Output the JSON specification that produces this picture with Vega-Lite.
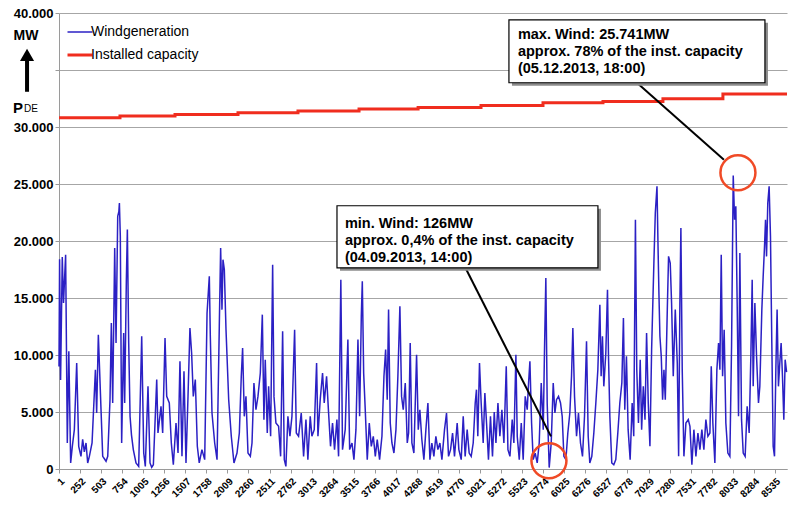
{
  "$schema": "https://vega.github.io/schema/vega-lite/v6.json",
  "width": 728,
  "height": 456,
  "autosize": {"type": "none"},
  "padding": {"left": 59, "top": 13, "right": 3, "bottom": 44},
  "background": "white",
  "config": {
    "font": "Liberation Sans",
    "view": {"stroke": null}
  },
  "datasets": {
    "wind": [
      {"h":1,"mw":9000},{"h":8,"mw":18400},{"h":20,"mw":7800},{"h":40,"mw":18600},{"h":55,"mw":14560},{"h":80,"mw":18800},{"h":100,"mw":2280},{"h":118,"mw":10320},{"h":140,"mw":530},{"h":160,"mw":2000},{"h":184,"mw":3450},{"h":212,"mw":9300},{"h":236,"mw":1990},{"h":263,"mw":1110},{"h":283,"mw":2600},{"h":303,"mw":1500},{"h":323,"mw":2280},{"h":343,"mw":530},{"h":363,"mw":1110},{"h":395,"mw":2280},{"h":435,"mw":8710},{"h":450,"mw":4910},{"h":470,"mw":11780},{"h":502,"mw":5200},{"h":522,"mw":1110},{"h":542,"mw":900},{"h":562,"mw":670},{"h":582,"mw":1110},{"h":609,"mw":6080},{"h":625,"mw":12800},{"h":641,"mw":5790},{"h":665,"mw":19390},{"h":681,"mw":11050},{"h":701,"mw":22160},{"h":715,"mw":22600},{"h":721,"mw":23330},{"h":732,"mw":20410},{"h":748,"mw":2280},{"h":772,"mw":11930},{"h":784,"mw":5790},{"h":804,"mw":16610},{"h":816,"mw":21000},{"h":832,"mw":11050},{"h":848,"mw":4620},{"h":865,"mw":3000},{"h":887,"mw":1700},{"h":919,"mw":530},{"h":951,"mw":230},{"h":987,"mw":11640},{"h":1011,"mw":1400},{"h":1030,"mw":230},{"h":1062,"mw":7250},{"h":1086,"mw":530},{"h":1106,"mw":150},{"h":1126,"mw":380},{"h":1166,"mw":7840},{"h":1181,"mw":3160},{"h":1217,"mw":5500},{"h":1237,"mw":3160},{"h":1265,"mw":11490},{"h":1285,"mw":6370},{"h":1316,"mw":5790},{"h":1340,"mw":2280},{"h":1364,"mw":380},{"h":1396,"mw":4040},{"h":1420,"mw":1400},{"h":1443,"mw":9440},{"h":1467,"mw":1110},{"h":1491,"mw":8570},{"h":1515,"mw":530},{"h":1539,"mw":6370},{"h":1562,"mw":12370},{"h":1582,"mw":10180},{"h":1602,"mw":6370},{"h":1626,"mw":7840},{"h":1650,"mw":1990},{"h":1673,"mw":530},{"h":1705,"mw":1700},
      {"h":1738,"mw":820},{"h":1766,"mw":13680},{"h":1793,"mw":16900},{"h":1805,"mw":11640},{"h":1825,"mw":4910},{"h":1857,"mw":2280},{"h":1885,"mw":820},{"h":1912,"mw":12510},{"h":1928,"mw":19390},{"h":1944,"mw":13980},{"h":1956,"mw":18360},{"h":1972,"mw":17490},{"h":1992,"mw":12220},{"h":2024,"mw":6080},{"h":2055,"mw":2870},{"h":2087,"mw":530},{"h":2123,"mw":1400},{"h":2151,"mw":3160},{"h":2174,"mw":8130},{"h":2190,"mw":10610},{"h":2210,"mw":4620},{"h":2230,"mw":6370},{"h":2254,"mw":1400},{"h":2282,"mw":1110},{"h":2302,"mw":2280},{"h":2325,"mw":7540},{"h":2349,"mw":5200},{"h":2373,"mw":6370},{"h":2401,"mw":8420},{"h":2425,"mw":13540},{"h":2444,"mw":4330},{"h":2460,"mw":9590},{"h":2484,"mw":3160},{"h":2500,"mw":7250},{"h":2524,"mw":2870},{"h":2548,"mw":17920},{"h":2564,"mw":6370},{"h":2587,"mw":4040},{"h":2619,"mw":3740},{"h":2643,"mw":1110},{"h":2667,"mw":12080},{"h":2687,"mw":820},{"h":2706,"mw":230},{"h":2730,"mw":4620},{"h":2754,"mw":2870},{"h":2778,"mw":4620},{"h":2810,"mw":12220},{"h":2830,"mw":3160},{"h":2857,"mw":2870},{"h":2889,"mw":4910},{"h":2917,"mw":1110},{"h":2945,"mw":4330},{"h":2968,"mw":820},{"h":2996,"mw":4620},{"h":3016,"mw":2870},{"h":3044,"mw":3450},{"h":3072,"mw":9300},{"h":3088,"mw":2870},{"h":3115,"mw":6080},{"h":3143,"mw":8420},{"h":3163,"mw":5790},{"h":3191,"mw":8130},{"h":3215,"mw":4910},{"h":3238,"mw":1990},{"h":3262,"mw":4040},{"h":3286,"mw":1700},{"h":3314,"mw":4330},{"h":3334,"mw":1110},{"h":3361,"mw":16610},{"h":3381,"mw":1700},{"h":3413,"mw":3450},{"h":3445,"mw":11350},
      {"h":3466,"mw":1700},{"h":3494,"mw":2280},{"h":3517,"mw":820},{"h":3541,"mw":3450},{"h":3565,"mw":11350},{"h":3585,"mw":4620},{"h":3605,"mw":13390},{"h":3617,"mw":16460},{"h":3633,"mw":8420},{"h":3652,"mw":5200},{"h":3676,"mw":820},{"h":3700,"mw":4040},{"h":3724,"mw":1990},{"h":3748,"mw":2870},{"h":3772,"mw":1110},{"h":3795,"mw":2570},{"h":3823,"mw":820},{"h":3851,"mw":2870},{"h":3875,"mw":8130},{"h":3895,"mw":10470},{"h":3914,"mw":6080},{"h":3930,"mw":13980},{"h":3950,"mw":4040},{"h":3970,"mw":2280},{"h":3994,"mw":1400},{"h":4018,"mw":3450},{"h":4041,"mw":8130},{"h":4065,"mw":14270},{"h":4085,"mw":6370},{"h":4105,"mw":5200},{"h":4129,"mw":7540},{"h":4153,"mw":2280},{"h":4169,"mw":3160},{"h":4188,"mw":11050},{"h":4208,"mw":2280},{"h":4232,"mw":1400},{"h":4264,"mw":10030},{"h":4284,"mw":3450},{"h":4303,"mw":5200},{"h":4327,"mw":2570},{"h":4351,"mw":820},{"h":4375,"mw":3450},{"h":4399,"mw":5790},{"h":4423,"mw":820},{"h":4446,"mw":2280},{"h":4470,"mw":1110},{"h":4494,"mw":2870},{"h":4518,"mw":1700},{"h":4542,"mw":2280},{"h":4566,"mw":820},{"h":4597,"mw":3450},{"h":4621,"mw":4910},{"h":4645,"mw":1110},{"h":4669,"mw":1700},{"h":4693,"mw":3160},{"h":4716,"mw":1110},{"h":4748,"mw":4040},{"h":4768,"mw":1700},{"h":4796,"mw":820},{"h":4820,"mw":4620},{"h":4843,"mw":1110},{"h":4867,"mw":3450},{"h":4891,"mw":1400},{"h":4915,"mw":1110},{"h":4939,"mw":2280},{"h":4963,"mw":5790},{"h":4978,"mw":6960},{"h":4994,"mw":2870},{"h":5014,"mw":9300},{"h":5034,"mw":5790},{"h":5058,"mw":2280},{"h":5078,"mw":6670},{"h":5098,"mw":4040},{"h":5121,"mw":820},{"h":5145,"mw":4620},{"h":5169,"mw":1110},{"h":5190,"mw":5000},
      {"h":5210,"mw":2280},{"h":5234,"mw":5790},{"h":5257,"mw":2870},{"h":5281,"mw":5200},{"h":5305,"mw":2280},{"h":5333,"mw":9010},{"h":5353,"mw":1700},{"h":5377,"mw":1110},{"h":5404,"mw":4330},{"h":5424,"mw":2280},{"h":5448,"mw":10030},{"h":5464,"mw":2870},{"h":5488,"mw":820},{"h":5512,"mw":4040},{"h":5535,"mw":820},{"h":5559,"mw":6370},{"h":5583,"mw":5200},{"h":5599,"mw":7540},{"h":5615,"mw":9440},{"h":5635,"mw":4040},{"h":5654,"mw":820},{"h":5678,"mw":1400},{"h":5702,"mw":530},{"h":5726,"mw":2280},{"h":5750,"mw":7540},{"h":5774,"mw":3450},{"h":5789,"mw":10470},{"h":5805,"mw":16750},{"h":5821,"mw":5790},{"h":5845,"mw":126},{"h":5869,"mw":2280},{"h":5893,"mw":7540},{"h":5913,"mw":4910},{"h":5932,"mw":6080},{"h":5956,"mw":6370},{"h":5980,"mw":5790},{"h":6000,"mw":4620},{"h":6020,"mw":1110},{"h":6044,"mw":820},{"h":6067,"mw":3160},{"h":6091,"mw":4910},{"h":6111,"mw":8130},{"h":6127,"mw":12370},{"h":6147,"mw":6370},{"h":6171,"mw":2870},{"h":6194,"mw":4910},{"h":6218,"mw":2280},{"h":6242,"mw":1110},{"h":6266,"mw":4620},{"h":6290,"mw":11200},{"h":6310,"mw":2870},{"h":6329,"mw":530},{"h":6353,"mw":1110},{"h":6377,"mw":3160},{"h":6401,"mw":5790},{"h":6425,"mw":8710},{"h":6449,"mw":14410},{"h":6464,"mw":8130},{"h":6480,"mw":11640},{"h":6496,"mw":7250},{"h":6520,"mw":10180},{"h":6540,"mw":15730},{"h":6552,"mw":9880},{"h":6568,"mw":4620},{"h":6591,"mw":530},{"h":6615,"mw":380},{"h":6639,"mw":820},{"h":6663,"mw":3160},{"h":6687,"mw":5790},{"h":6711,"mw":7540},{"h":6730,"mw":13250},{"h":6746,"mw":5200},{"h":6766,"mw":9880},{"h":6786,"mw":3450},{"h":6810,"mw":820},{"h":6834,"mw":5790},{"h":6853,"mw":2870},{"h":6873,"mw":21870},{"h":6889,"mw":8710},{"h":6909,"mw":4040},{"h":6930,"mw":9590},
      {"h":6947,"mw":3450},{"h":6967,"mw":7250},{"h":6987,"mw":4330},{"h":7006,"mw":11930},{"h":7026,"mw":5790},{"h":7046,"mw":1990},{"h":7066,"mw":10470},{"h":7094,"mw":18360},{"h":7110,"mw":22460},{"h":7130,"mw":24800},{"h":7141,"mw":20120},{"h":7153,"mw":15440},{"h":7165,"mw":11640},{"h":7181,"mw":9880},{"h":7197,"mw":6080},{"h":7213,"mw":8710},{"h":7229,"mw":6080},{"h":7253,"mw":13980},{"h":7268,"mw":18650},{"h":7288,"mw":18070},{"h":7304,"mw":14560},{"h":7324,"mw":8130},{"h":7348,"mw":13980},{"h":7372,"mw":9300},{"h":7388,"mw":1110},{"h":7403,"mw":14560},{"h":7415,"mw":21140},{"h":7431,"mw":8710},{"h":7451,"mw":1110},{"h":7475,"mw":4040},{"h":7503,"mw":4330},{"h":7523,"mw":3740},{"h":7546,"mw":380},{"h":7570,"mw":3450},{"h":7594,"mw":1110},{"h":7618,"mw":3160},{"h":7642,"mw":1700},{"h":7665,"mw":3450},{"h":7689,"mw":1700},{"h":7713,"mw":4330},{"h":7737,"mw":2870},{"h":7761,"mw":3160},{"h":7777,"mw":9010},{"h":7796,"mw":4040},{"h":7820,"mw":530},{"h":7844,"mw":8710},{"h":7864,"mw":11050},{"h":7880,"mw":8710},{"h":7896,"mw":18800},{"h":7912,"mw":8130},{"h":7931,"mw":12220},{"h":7951,"mw":4040},{"h":7975,"mw":1400},{"h":7999,"mw":1110},{"h":8019,"mw":10760},{"h":8039,"mw":25741},{"h":8055,"mw":21870},{"h":8070,"mw":23040},{"h":8086,"mw":14560},{"h":8102,"mw":4620},{"h":8118,"mw":18950},{"h":8138,"mw":4330},{"h":8158,"mw":1400},{"h":8181,"mw":1110},{"h":8205,"mw":5500},{"h":8229,"mw":3160},{"h":8249,"mw":9880},{"h":8265,"mw":16610},{"h":8277,"mw":7250},{"h":8297,"mw":14560},{"h":8317,"mw":9880},{"h":8340,"mw":5790},{"h":8356,"mw":7250},{"h":8380,"mw":13980},{"h":8396,"mw":16900},{"h":8412,"mw":19530},{"h":8424,"mw":21870},{"h":8436,"mw":18650},{"h":8451,"mw":23330},{"h":8467,"mw":24800},{"h":8483,"mw":20410},{"h":8499,"mw":11050},{"h":8515,"mw":1990},{"h":8531,"mw":1110},{"h":8547,"mw":8710},{"h":8562,"mw":13980},{"h":8578,"mw":7250},{"h":8594,"mw":9300},{"h":8610,"mw":11050},{"h":8626,"mw":8130},{"h":8642,"mw":4330},{"h":8658,"mw":9590},{"h":8675,"mw":8500}
    ],
    "cap": [
      {"h":1,"mw":30820},{"h":728,"mw":30960},{"h":1384,"mw":31100},{"h":2135,"mw":31250},{"h":2850,"mw":31400},{"h":3578,"mw":31570},{"h":4282,"mw":31720},{"h":5032,"mw":31890},{"h":5771,"mw":32120},{"h":6486,"mw":32240},{"h":7201,"mw":32480},{"h":7916,"mw":32890},{"h":8680,"mw":32890}
    ],
    "shadows": [
      {"h":5401,"h2":8453,"mw":39137,"mw2":33617},
      {"h":3351,"h2":6462,"mw":22827,"mw2":17387}
    ],
    "boxes": [
      {"h":5365,"h2":8417,"mw":39400,"mw2":33880},
      {"h":3315,"h2":6426,"mw":23090,"mw2":17650}
    ],
    "boxtext": [
      {"h":5472,"mw":37740,"t":"max. Wind: 25.741MW"},
      {"h":5472,"mw":36250,"t":"approx. 78% of the inst. capacity"},
      {"h":5472,"mw":34760,"t":"(05.12.2013, 18:00)"},
      {"h":3410,"mw":21160,"t":"min. Wind: 126MW"},
      {"h":3410,"mw":19670,"t":"approx. 0,4% of the inst. capacity"},
      {"h":3410,"mw":18180,"t":"(04.09.2013, 14:00)"}
    ],
    "leaders": [
      {"h":6891,"mw":33880,"h2":7928,"mw2":27130},
      {"h":4846,"mw":17650,"h2":5866,"mw2":2860}
    ],
    "circles": [
      {"h":8095,"mw":25990},
      {"h":5842,"mw":730}
    ],
    "unit": [{"h":-392,"mw":37950,"t":"MW"}],
    "arrow": [{"h":-380,"mw":33090,"mw2":36300}],
    "arrowhead": [{"h":-380,"mw":36330}],
    "psym": [{"h":-548,"mw":31250,"t":"P"}],
    "psub": [{"h":-416,"mw":31330,"t":"DE"}]
  },
  "encoding": {
    "x": {"field": "h", "type": "quantitative", "title": null,
          "scale": {"domain": [1, 8680], "nice": false, "zero": false},
          "axis": {"values": [1,252,503,754,1005,1256,1507,1758,2009,2260,2511,2762,3013,3264,3515,3766,4017,4268,4519,4770,5021,5272,5523,5774,6025,6276,6527,6778,7029,7280,7531,7782,8033,8284,8535],
                   "format": "d", "grid": false, "labelAngle": 315, "labelAlign": "right", "labelBaseline": "top",
                   "labelFontSize": 10, "labelFontWeight": "bold", "labelColor": "black", "labelPadding": 3,
                   "labelOverlap": false, "labelFlush": false, "tickSize": 4, "tickColor": "#9a9a9a", "domainColor": "#9a9a9a"}},
    "y": {"field": "mw", "type": "quantitative", "title": null,
          "scale": {"domain": [0, 40000], "nice": false},
          "axis": {"values": [0,5000,10000,15000,20000,25000,30000,35000,40000], "grid": true, "gridColor": "#a6a6a6",
                   "labelExpr": "datum.value == 35000 ? '' : replace(format(datum.value, ','), ',', '.')",
                   "labelFontSize": 13, "labelFontWeight": "bold", "labelColor": "black", "labelPadding": 2,
                   "labelFlush": false, "labelOverlap": false, "tickSize": 4, "tickColor": "#9a9a9a", "domainColor": "#9a9a9a"}}
  },
  "layer": [
    {
      "data": {"name": "wind"},
      "mark": {"type": "line", "strokeWidth": 1.5, "interpolate": "linear"},
      "encoding": {
        "color": {"datum": "Windgeneration", "type": "nominal",
                  "scale": {"domain": ["Windgeneration", "Installed capacity"], "range": ["#2b20c4", "#f02d1e"]},
                  "legend": {"title": null, "orient": "none", "legendX": 14, "legendY": 12, "symbolType": "stroke",
                             "symbolSize": 625, "symbolStrokeWidth": 2, "labelFontSize": 14, "labelColor": "black",
                             "labelFont": "Liberation Sans", "labelOffset": 4, "rowPadding": 9,
                             "encode": {"symbols": {"update": {"strokeWidth": {"signal": "datum.value === 'Installed capacity' ? 3 : 1.5"}}}}}}
      }
    },
    {
      "data": {"name": "cap"},
      "mark": {"type": "line", "strokeWidth": 3, "interpolate": "step-after"},
      "encoding": {
        "color": {"datum": "Installed capacity", "type": "nominal"}
      }
    },
    {
      "data": {"name": "leaders"},
      "mark": {"type": "rule", "color": "black", "strokeWidth": 2},
      "encoding": {"x2": {"field": "h2"}, "y2": {"field": "mw2"}}
    },
    {
      "data": {"name": "shadows"},
      "mark": {"type": "rect", "fill": "#8c8c8c"},
      "encoding": {"x2": {"field": "h2"}, "y2": {"field": "mw2"}}
    },
    {
      "data": {"name": "boxes"},
      "mark": {"type": "rect", "fill": "white", "stroke": "black", "strokeWidth": 1.2},
      "encoding": {"x2": {"field": "h2"}, "y2": {"field": "mw2"}}
    },
    {
      "data": {"name": "boxtext"},
      "mark": {"type": "text", "align": "left", "baseline": "alphabetic", "font": "Liberation Sans", "fontWeight": "bold", "fontSize": 14.5, "color": "black"},
      "encoding": {"text": {"field": "t"}}
    },
    {
      "data": {"name": "circles"},
      "mark": {"type": "point", "shape": "circle", "filled": false, "size": 1225, "stroke": "#f04a26", "strokeWidth": 2.5, "opacity": 1},
      "encoding": {}
    },
    {
      "data": {"name": "unit"},
      "mark": {"type": "text", "align": "center", "baseline": "middle", "font": "Liberation Sans", "fontWeight": "bold", "fontSize": 14, "color": "black"},
      "encoding": {"text": {"field": "t"}}
    },
    {
      "data": {"name": "arrow"},
      "mark": {"type": "rule", "color": "black", "strokeWidth": 4},
      "encoding": {"y2": {"field": "mw2"}}
    },
    {
      "data": {"name": "arrowhead"},
      "mark": {"type": "point", "shape": "triangle-up", "filled": true, "size": 200, "color": "black", "opacity": 1},
      "encoding": {}
    },
    {
      "data": {"name": "psym"},
      "mark": {"type": "text", "align": "left", "baseline": "alphabetic", "font": "Liberation Sans", "fontWeight": "bold", "fontSize": 15, "color": "black"},
      "encoding": {"text": {"field": "t"}}
    },
    {
      "data": {"name": "psub"},
      "mark": {"type": "text", "align": "left", "baseline": "alphabetic", "font": "Liberation Sans", "fontSize": 10, "color": "black"},
      "encoding": {"text": {"field": "t"}}
    }
  ]
}
